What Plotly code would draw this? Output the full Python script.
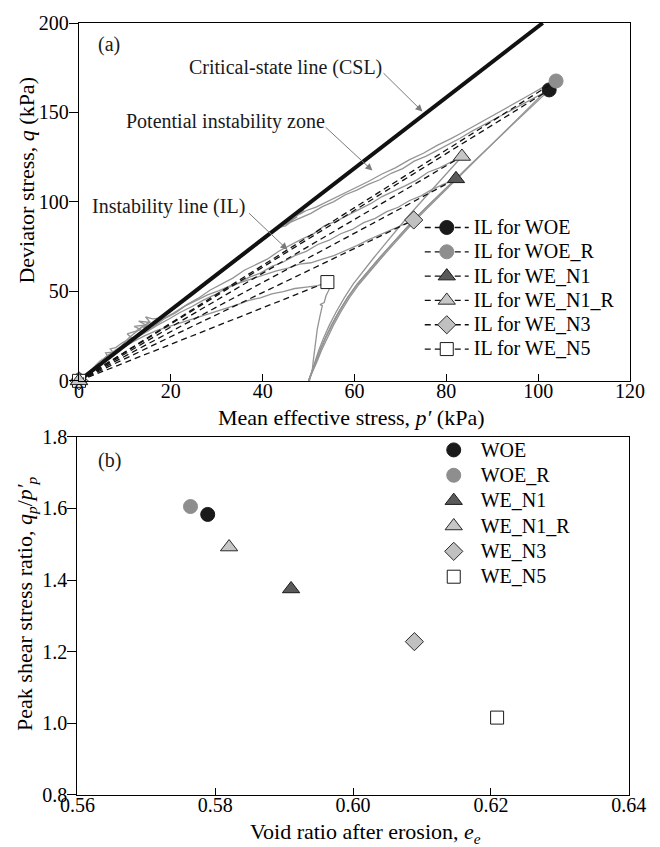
import plotly.graph_objects as go

FONT = "Liberation Serif"

# ---------------- (a) stress paths in p'-q space ----------------
tests = ["WOE", "WOE_R", "WE_N1", "WE_N1_R", "WE_N3", "WE_N5"]

# peak (instability) points, kPa
peak_p = [102.4, 103.9, 82.1, 83.4, 72.9, 54.1]
peak_q = [162.6, 167.6, 112.9, 125.4, 89.9, 55.2]

# critical-state line end points
csl_p = [0.0, 101.0]
csl_q = [0.0, 200.0]

# loading branches starting from p' = 50 kPa
woe_load_p = [50.0, 50.7, 51.5, 52.5, 53.6, 55.0, 56.6, 58.5, 60.6, 63.0, 65.5, 68.0, 70.5, 72.9,
              75.5, 78.0, 80.5, 82.5, 85.0, 87.5, 90.0, 92.5, 95.0, 97.5, 100.0, 102.4]
woe_load_q = [0.0, 5.0, 10.5, 17.0, 23.5, 31.0, 38.5, 46.5, 54.0, 61.5, 68.8, 76.0, 83.2, 89.9,
              96.6, 103.0, 109.1, 114.0, 120.2, 126.4, 132.5, 138.6, 144.6, 150.6, 156.7, 162.6]

woer_load_p = [50.0, 50.9, 51.8, 52.8, 54.0, 55.4, 57.0, 58.9, 61.0, 63.4, 65.9, 68.4, 70.9, 73.3,
               75.9, 78.4, 80.9, 83.4, 85.9, 88.4, 90.9, 93.4, 95.9, 98.4, 100.9, 103.9]
woer_load_q = [0.0, 5.0, 10.5, 17.0, 23.5, 31.0, 38.5, 46.5, 54.0, 61.5, 68.8, 76.0, 83.2, 89.9,
               96.6, 103.0, 109.3, 115.6, 122.0, 128.3, 134.6, 141.0, 147.4, 153.8, 160.1, 167.6]

wen1_load_p = [50.0, 50.7, 51.5, 52.5, 53.6, 55.0, 56.6, 58.5, 60.6, 63.0, 65.5, 68.0, 70.5, 72.9,
               75.5, 78.0, 80.5, 82.1]
wen1_load_q = [0.0, 5.0, 10.5, 17.0, 23.5, 31.0, 38.5, 46.5, 54.0, 61.5, 68.8, 76.0, 83.2, 89.9,
               96.6, 103.0, 109.1, 112.9]

wen1r_load_p = [50.0, 50.6, 51.3, 52.2, 53.2, 54.5, 56.0, 57.8, 59.7, 61.9, 64.2, 66.5, 68.8, 71.0,
                73.3, 75.5, 77.6, 79.5, 81.5, 83.4]
wen1r_load_q = [0.0, 5.0, 10.5, 17.0, 23.5, 31.0, 38.5, 46.5, 54.0, 61.5, 68.8, 76.0, 83.2, 89.9,
                96.6, 103.0, 109.1, 114.5, 120.0, 125.4]

wen3_load_p = [50.0, 50.7, 51.5, 52.5, 53.6, 55.0, 56.6, 58.5, 60.6, 63.0, 65.5, 68.0, 70.5, 72.9]
wen3_load_q = [0.0, 5.0, 10.5, 17.0, 23.5, 31.0, 38.5, 46.5, 54.0, 61.5, 68.8, 76.0, 83.2, 89.9]

wen5_load_p = [50.2, 50.8, 51.0, 51.4, 51.9, 52.5, 53.0, 52.5, 53.4, 53.8, 54.5, 54.1]
wen5_load_q = [0.0, 6.0, 10.7, 20.0, 29.0, 36.5, 42.0, 42.6, 43.8, 47.5, 51.2, 55.2]

# post-peak branches heading back toward the origin
woe_post_p = [102.4, 99.5, 97.0, 94.0, 91.0, 88.0, 85.5, 83.0, 80.5, 78.0, 75.5, 73.0, 70.5, 68.0,
              65.5, 63.0, 60.5, 58.0, 55.5, 53.0, 50.5, 48.0, 46.0, 44.5, 46.5, 45.0, 43.5, 44.8,
              42.0, 39.0, 36.0, 33.0, 30.0, 27.0, 24.0, 21.0, 18.0, 16.0, 14.0, 15.5, 12.5, 14.2,
              11.0, 9.0, 7.0, 5.5, 6.5, 4.5, 3.0, 1.5, 0.3]
woe_post_q = [162.6, 158.6, 155.5, 151.0, 147.2, 142.8, 139.4, 135.6, 132.4, 128.8, 125.5, 122.8,
              118.6, 116.0, 112.4, 109.8, 106.6, 104.0, 100.2, 97.4, 93.6, 90.8, 88.6, 87.4, 89.5,
              86.6, 85.8, 87.9, 82.4, 76.6, 70.2, 64.6, 58.4, 52.6, 46.4, 40.8, 35.0, 31.6, 29.4,
              33.2, 28.0, 31.0, 24.4, 19.0, 15.6, 12.6, 14.8, 9.8, 6.4, 3.2, 0.6]

woer_post_p = [103.9, 101.0, 98.0, 95.0, 92.0, 89.0, 86.0, 83.5, 81.0, 78.0, 75.0, 72.0, 69.0, 66.0,
               63.0, 60.0, 57.0, 54.0, 51.5, 49.5, 48.0, 49.0, 47.0, 45.5, 47.5, 44.0, 41.0, 38.0,
               35.0, 32.0, 29.0, 26.0, 23.0, 20.0, 17.5, 16.0, 14.5, 15.5, 13.0, 14.6, 12.0, 13.5,
               10.5, 11.5, 9.5, 8.0, 6.8, 7.4, 5.8, 6.2, 4.5, 3.0, 1.5, 0.3]
woer_post_q = [167.6, 164.0, 159.6, 155.2, 150.8, 146.6, 142.2, 138.8, 135.4, 131.6, 127.2, 123.6,
               119.2, 115.6, 111.4, 107.6, 104.0, 100.2, 97.0, 95.2, 93.0, 95.6, 91.2, 88.8, 91.6,
               86.0, 80.4, 74.6, 68.8, 62.8, 57.0, 51.2, 45.4, 39.6, 35.0, 34.6, 35.8, 32.6, 33.4,
               31.2, 30.4, 28.6, 26.2, 24.0, 21.4, 18.6, 17.8, 16.0, 15.6, 13.8, 11.0, 7.0, 3.4, 0.6]

wen1r_post_p = [83.4, 81.0, 78.5, 76.0, 73.5, 71.0, 68.5, 66.0, 63.5, 61.0, 58.5, 56.0, 53.5, 51.0,
                48.5, 46.0, 43.5, 41.0, 38.5, 36.0, 33.5, 31.0, 28.5, 26.0, 23.5, 21.0, 18.5, 16.0,
                13.5, 11.0, 8.5, 6.0, 3.5, 1.0]
wen1r_post_q = [125.4, 122.4, 119.0, 116.6, 112.2, 109.0, 106.0, 103.0, 99.0, 95.8, 92.8, 89.2,
                86.8, 82.0, 79.2, 75.6, 72.4, 68.0, 65.0, 61.8, 57.4, 54.2, 50.6, 46.2, 42.6, 38.0,
                34.6, 29.8, 26.0, 21.2, 17.0, 11.8, 7.0, 2.0]

wen1_post_p = [82.1, 79.5, 77.0, 74.5, 72.0, 69.5, 67.0, 64.5, 62.0, 59.5, 57.0, 54.5, 52.0, 49.5,
               47.0, 44.5, 42.0, 39.5, 37.0, 34.5, 32.0, 29.5, 27.0, 24.5, 22.0, 19.5, 17.0, 14.5,
               12.0, 9.5, 7.0, 4.5, 2.0]
wen1_post_q = [112.9, 109.8, 107.2, 103.4, 100.8, 97.0, 94.6, 90.8, 88.4, 84.6, 82.2, 78.6, 76.2,
               72.4, 70.0, 66.4, 64.0, 60.2, 57.8, 54.2, 51.6, 48.0, 45.0, 41.4, 38.2, 34.4, 31.0,
               27.0, 23.4, 18.6, 14.2, 9.2, 4.2]

wen3_post_p = [72.9, 70.5, 68.0, 65.5, 63.0, 60.5, 58.0, 55.5, 53.0, 50.5, 48.0, 45.5, 43.0, 40.5,
               38.0, 35.5, 33.0, 30.5, 28.0, 25.5, 23.0, 20.5, 18.0, 15.5, 13.0, 10.5, 8.0, 5.5, 3.0]
wen3_post_q = [89.9, 87.2, 84.6, 81.4, 78.8, 75.6, 72.8, 70.0, 68.0, 66.0, 65.2, 63.0, 61.4, 59.4,
               57.4, 55.2, 53.2, 50.4, 48.0, 44.8, 41.8, 37.8, 34.2, 29.8, 25.8, 20.8, 16.4, 11.2, 6.0]

wen5_post_p = [54.1, 52.0, 49.5, 47.0, 44.5, 42.0, 39.5, 37.0, 34.5, 32.0, 29.5, 27.0, 24.5, 22.0,
               19.5, 17.0, 14.5, 12.0, 9.5, 7.0, 4.5, 2.0]
wen5_post_q = [55.2, 53.2, 52.4, 51.6, 49.8, 48.6, 46.4, 45.0, 42.6, 40.6, 38.6, 36.2, 34.2, 32.4,
               30.6, 28.2, 25.4, 22.2, 18.4, 14.0, 9.2, 4.2]

# ---------------- (b) peak stress ratio vs. void ratio ----------------
void_ratio = [0.5789, 0.5764, 0.5910, 0.5820, 0.6089, 0.6209]
peak_ratio = [1.583, 1.605, 1.375, 1.492, 1.228, 1.016]

# marker styling per test
m_symbol = ["circle", "circle", "triangle-up", "triangle-up", "diamond", "square"]
m_fill = ["#1a1a1a", "#8e8e8e", "#5a5a5a", "#c6c6c6", "#c0c0c0", "#ffffff"]
m_edge = ["#1a1a1a", "#8e8e8e", "#1a1a1a", "#2a2a2a", "#2a2a2a", "#1a1a1a"]
m_size = [14, 14, 15, 15, 14, 13]

fig = go.Figure()

path_color = "#949494"
paths = [
    (woe_load_p, woe_load_q), (woer_load_p, woer_load_q), (wen1_load_p, wen1_load_q),
    (wen1r_load_p, wen1r_load_q), (wen3_load_p, wen3_load_q), (wen5_load_p, wen5_load_q),
    (woe_post_p, woe_post_q), (woer_post_p, woer_post_q), (wen1r_post_p, wen1r_post_q),
    (wen1_post_p, wen1_post_q), (wen3_post_p, wen3_post_q), (wen5_post_p, wen5_post_q),
]
for px_, qy_ in paths:
    fig.add_trace(go.Scatter(x=px_, y=qy_, mode="lines", showlegend=False, hoverinfo="skip",
                             line=dict(color=path_color, width=1.3), xaxis="x", yaxis="y"))

fig.add_trace(go.Scatter(x=csl_p, y=csl_q, mode="lines", showlegend=False,
                         line=dict(color="#111111", width=4), xaxis="x", yaxis="y"))

# instability lines from the origin to each peak; WE_N1_R drawn last so it sits on top
draw_order = [0, 1, 2, 4, 5, 3]
for i in draw_order:
    fig.add_trace(go.Scatter(
        x=[0, peak_p[i]], y=[0, peak_q[i]], mode="lines+markers",
        name="<span style='font-size:20px'>IL for " + tests[i] + "</span>",
        legend="legend", legendrank=i + 1, cliponaxis=False,
        line=dict(color="#111111", width=1.3, dash="6px,4px"),
        marker=dict(symbol=m_symbol[i], size=m_size[i], color=m_fill[i],
                    line=dict(color=m_edge[i], width=1)),
        xaxis="x", yaxis="y"))

for i in range(len(tests)):
    fig.add_trace(go.Scatter(
        x=[void_ratio[i]], y=[peak_ratio[i]], mode="markers",
        name="<span style='font-size:20px'>" + tests[i] + "</span>",
        legend="legend2", legendrank=i + 1,
        marker=dict(symbol=m_symbol[i], size=m_size[i], color=m_fill[i],
                    line=dict(color=m_edge[i], width=1)),
        xaxis="x2", yaxis="y2"))

L, R, T, B = 77, 28, 14, 52
W, H = 660, 847
pw, ph = W - L - R, H - T - B


def px2paper(X, Y):
    return (X - L) / pw, (H - B - Y) / ph


axis_common = dict(showline=True, linecolor="black", linewidth=1.4, mirror=True,
                   showgrid=False, zeroline=False, tickcolor="black", tickwidth=1.2,
                   tickfont=dict(family=FONT, size=20, color="black"))

annotations = []
text_font = dict(family=FONT, size=20, color="#1a1a1a")
title_font = dict(family=FONT, size=22, color="black")

# panel labels and callouts (data coordinates)
annotations += [
    dict(x=6.6, y=187.8, xref="x", yref="y", text="(a)", showarrow=False, font=text_font),
    dict(x=45.0, y=175.0, xref="x", yref="y", text="Critical-state line (CSL)",
         showarrow=False, font=text_font),
    dict(x=31.9, y=145.1, xref="x", yref="y", text="Potential instability zone",
         showarrow=False, font=text_font),
    dict(x=19.4, y=97.2, xref="x", yref="y", text="Instability line (IL)",
         showarrow=False, font=text_font),
    dict(x=0.5647, y=1.733, xref="x2", yref="y2", text="(b)", showarrow=False, font=text_font),
]
arrow_style = dict(text="", showarrow=True, arrowhead=2, arrowsize=1.4, arrowwidth=1,
                   arrowcolor="#7a7a7a", xref="x", yref="y", axref="x", ayref="y")
annotations += [
    dict(x=74.8, y=150.5, ax=66.0, ay=172.8, **arrow_style),
    dict(x=63.9, y=117.5, ax=53.4, ay=142.5, **arrow_style),
    dict(x=45.4, y=73.3, ax=36.7, ay=94.5, **arrow_style),
]

# axis titles
xa, ya = px2paper(352, 413)
xb, yb = px2paper(366.7, 833)
yax, yay = px2paper(26.7, 172.5)
ybx, yby = px2paper(26.5, 601)
title_common = dict(xref="paper", yref="paper", showarrow=False, font=title_font,
                    xanchor="center", yanchor="middle")
annotations += [
    dict(x=xa, y=ya, text="Mean effective stress, <i>p\u2032</i> (kPa)", **title_common),
    dict(x=xb, y=yb, text="Void ratio after erosion, <i>e<sub>e</sub></i>", **title_common),
    dict(x=yax, y=yay, textangle=-90, text="Deviator stress, <i>q</i> (kPa)", **title_common),
    dict(x=ybx, y=yby, textangle=-90,
         text="Peak shear stress ratio, <i>q<sub>p</sub></i>/<i>p\u2032<sub>p</sub></i>",
         **title_common),
]

la_x, la_y = px2paper(421, 203.5)
lb_x, lb_y = px2paper(428, 428)

fig.update_layout(
    width=W, height=H, margin=dict(l=L, r=R, t=T, b=B),
    paper_bgcolor="white", plot_bgcolor="white",
    font=dict(family=FONT, size=20, color="black"),
    xaxis=dict(domain=[px2paper(79, 0)[0], 1.0], range=[0, 120], tickvals=[0, 20, 40, 60, 80, 100, 120],
               ticks="inside", ticklen=7, ticklabelstandoff=-8, anchor="y", **axis_common),
    yaxis=dict(domain=[px2paper(0, 376)[1], 1.0], range=[0, 200], tickvals=[0, 50, 100, 150, 200],
               ticks="outside", ticklen=9, ticklabelstandoff=-4, anchor="x", **axis_common),
    xaxis2=dict(domain=[px2paper(77.5, 0)[0], px2paper(630.7, 0)[0]], range=[0.56, 0.64],
                tickvals=[0.56, 0.58, 0.60, 0.62, 0.64], tickformat=".2f",
                ticks="inside", ticklen=7, ticklabelstandoff=-8, anchor="y2", **axis_common),
    yaxis2=dict(domain=[0.0, px2paper(0, 432.5)[1]], range=[0.8, 1.8],
                tickvals=[0.8, 1.0, 1.2, 1.4, 1.6, 1.8], tickformat=".1f",
                ticks="outside", ticklen=9, ticklabelstandoff=-4, anchor="x2", **axis_common),
    legend=dict(x=la_x, y=la_y, xanchor="left", yanchor="top", bgcolor="rgba(0,0,0,0)",
                font=dict(family=FONT, size=16.4, color="black"), itemwidth=44,
                traceorder="normal"),
    legend2=dict(x=lb_x, y=lb_y, xanchor="left", yanchor="top", bgcolor="rgba(0,0,0,0)",
                 font=dict(family=FONT, size=17.2, color="black"), itemwidth=44,
                 traceorder="normal"),
    annotations=annotations,
)

fig.write_html("out.html")
